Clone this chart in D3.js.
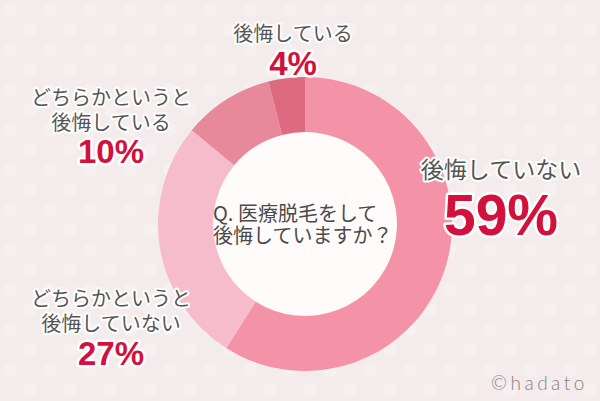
<!DOCTYPE html>
<html><head><meta charset="utf-8">
<script src="https://cdn.jsdelivr.net/npm/d3@7"></script>
<style>
html,body{margin:0;padding:0;background:#f5eded;}
svg{display:block;}
</style></head>
<body>
<svg id="chart" width="600" height="401"></svg>
<script>
// ---- data ----
const categories = ["後悔していない", "どちらかというと後悔していない", "どちらかというと後悔している", "後悔している"];
const values = [59, 27, 10, 4];
const labelLines = [["後悔していない"], ["どちらかというと", "後悔していない"], ["どちらかというと", "後悔している"], ["後悔している"]];
const questionLines = ["Q. 医療脱毛をして", "後悔していますか？"];
const credit = "©hadato";

// ---- style / layout ----
const W = 600, H = 401;
const colors = ["#f493a7", "#f6bccb", "#e8889b", "#dd6a80"];
const center = {x: 305, y: 224};
const rOuter = 147, rInner = 92;
const labelLayout = [
  {x: 501, lineY: [178], lineSize: 23, pctY: 235, pctSize: 57},
  {x: 111, lineY: [306, 331], lineSize: 20, pctY: 365, pctSize: 33},
  {x: 111, lineY: [105, 130], lineSize: 20, pctY: 163, pctSize: 33},
  {x: 293, lineY: [41], lineSize: 20, pctY: 75, pctSize: 33}
];

const svg = d3.select("#chart");
const defs = svg.append("defs");
const pat = defs.append("pattern").attr("id", "dots").attr("patternUnits", "userSpaceOnUse")
  .attr("width", 40).attr("height", 40);
pat.append("rect").attr("width", 40).attr("height", 40).attr("fill", "#f4ecec");
pat.append("circle").attr("cx", 10).attr("cy", 10).attr("r", 7).attr("fill", "#f6f0f0");
pat.append("circle").attr("cx", 30).attr("cy", 30).attr("r", 7).attr("fill", "#f6f0f0");
svg.append("rect").attr("width", W).attr("height", H).attr("fill", "url(#dots)");

const pie = d3.pie().sort(null).value(d => d)(values);
const arc = d3.arc().innerRadius(rInner).outerRadius(rOuter);
const g = svg.append("g").attr("transform", `translate(${center.x},${center.y})`);
g.append("circle").attr("r", rInner).attr("fill", "#fefbfa");
g.selectAll("path").data(pie).join("path")
  .attr("d", arc).attr("fill", (d, i) => colors[i]);

const jpFont = "'Noto Sans CJK JP', 'Noto Sans', sans-serif";
function halo(sel, w) {
  return sel.attr("stroke", "#ffffff").attr("stroke-width", w)
    .attr("stroke-linejoin", "round").attr("paint-order", "stroke");
}

categories.forEach((c, i) => {
  const L = labelLayout[i];
  const t = halo(svg.append("text"), 4)
    .attr("text-anchor", "middle")
    .attr("font-family", jpFont).attr("font-size", L.lineSize)
    .attr("fill", "#555555");
  labelLines[i].forEach((line, j) => {
    t.append("tspan").attr("x", L.x).attr("y", L.lineY[j]).text(line);
  });
  halo(svg.append("text"), 5)
    .attr("x", L.x).attr("y", L.pctY)
    .attr("text-anchor", "middle")
    .attr("font-family", "'Liberation Sans', Arial, sans-serif").attr("font-weight", "bold")
    .attr("font-size", L.pctSize)
    .attr("fill", "#d4103c").text(values[i] + "%");
});

const qt = svg.append("text")
  .attr("font-family", jpFont).attr("font-size", 20)
  .attr("fill", "#4a4a4a");
questionLines.forEach((q, j) => {
  qt.append("tspan").attr("x", center.x - 92).attr("y", 221 + j * 22).text(q);
});

svg.append("text").attr("x", 491).attr("y", 390)
  .attr("font-family", "Lato, sans-serif").attr("font-weight", 300)
  .attr("font-size", 19).attr("letter-spacing", 3.5)
  .attr("fill", "#8a7f82").text(credit);
</script>
</body></html>
